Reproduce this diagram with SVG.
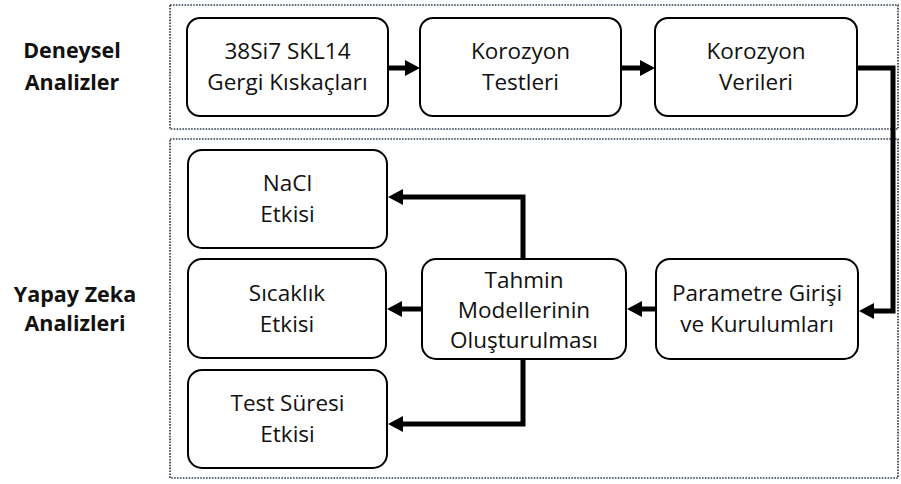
<svg xmlns="http://www.w3.org/2000/svg" width="901" height="484" viewBox="0 0 901 484">
<style>
.region{fill:none;stroke:#2c3e50;stroke-width:1.7;stroke-dasharray:1.6 1.3}
.node rect{fill:#fff;stroke:#000;stroke-width:2}
.node text{font-family:"Open Sans","Noto Sans",sans-serif;font-size:22.5px;fill:#111;text-anchor:middle}
.lbl{font-family:"Open Sans","Noto Sans",sans-serif;font-size:21.5px;font-weight:bold;fill:#111;text-anchor:middle}
.conn{fill:none;stroke:#000;stroke-width:5;stroke-linejoin:miter;marker-end:url(#ah)}
</style>
<defs>
<marker id="ah" markerUnits="userSpaceOnUse" markerWidth="15" markerHeight="16" refX="1" refY="8" orient="auto" viewBox="0 0 15 16">
<path d="M0,0 L15,8 L0,16 z" fill="#000"/>
</marker>
</defs>
<rect width="901" height="484" fill="#fff"/>
<g id="regions">
<rect class="region" x="170" y="5" width="728" height="124"/>
<rect class="region" x="170" y="139" width="728" height="339"/>
</g>
<g id="labels">
<text class="lbl" x="72" y="58">Deneysel</text>
<text class="lbl" x="72" y="90">Analizler</text>
<text class="lbl" x="75" y="302">Yapay Zeka</text>
<text class="lbl" x="75" y="331">Analizleri</text>
</g>
<g id="n1" class="node"><rect x="187" y="18" width="201" height="98" rx="13"/><text x="287.5" y="59">38Si7 SKL14</text><text x="287.5" y="90">Gergi Kıskaçları</text></g>
<g id="n2" class="node"><rect x="420" y="18" width="201" height="98" rx="13"/><text x="520.5" y="59">Korozyon</text><text x="520.5" y="90">Testleri</text></g>
<g id="n3" class="node"><rect x="655" y="18" width="202" height="98" rx="13"/><text x="756" y="59">Korozyon</text><text x="756" y="90">Verileri</text></g>
<g id="n4" class="node"><rect x="656" y="259" width="202" height="100" rx="14"/><text x="757" y="301">Parametre Girişi</text><text x="757" y="332">ve Kurulumları</text></g>
<g id="n5" class="node"><rect x="422" y="259" width="204" height="100" rx="14"/><text x="524" y="288">Tahmin</text><text x="524" y="318">Modellerinin</text><text x="524" y="348">Oluşturulması</text></g>
<g id="n6" class="node"><rect x="188" y="150" width="199" height="98" rx="14"/><text x="287.5" y="191">NaCl</text><text x="287.5" y="222">Etkisi</text></g>
<g id="n7" class="node"><rect x="188" y="259" width="198" height="99" rx="14"/><text x="287" y="301">Sıcaklık</text><text x="287" y="332">Etkisi</text></g>
<g id="n8" class="node"><rect x="188" y="370" width="199" height="98" rx="14"/><text x="287.5" y="411">Test Süresi</text><text x="287.5" y="442">Etkisi</text></g>
<g id="connectors">
<path class="conn" d="M388,68 H406"/>
<path class="conn" d="M621,68 H641"/>
<path class="conn" d="M857,68 H893 V311 H873"/>
<path class="conn" d="M656,309 H641"/>
<path class="conn" d="M422,309 H401"/>
<path class="conn" d="M523,259 V197 H402"/>
<path class="conn" d="M523,359 V424 H402"/>
</g>
</svg>
